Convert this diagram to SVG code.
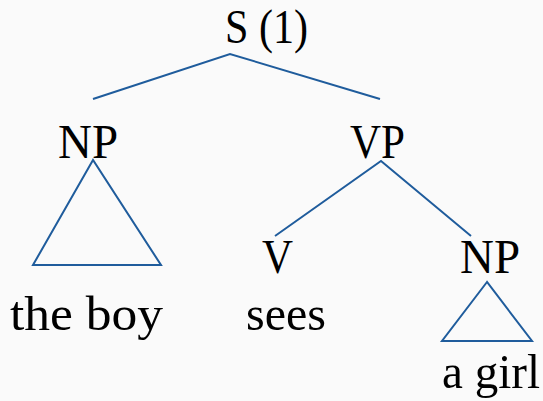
<svg xmlns="http://www.w3.org/2000/svg" width="543" height="401" viewBox="0 0 543 401">
<style>
.t{font-family:"Liberation Serif","Times New Roman",serif;font-size:49px;fill:#000}
.e{stroke:#1f5c9c;stroke-width:2;fill:none;stroke-linejoin:miter}
</style>
<rect width="543" height="401" fill="#fafafa"/>
<g id="connectors">
<polyline class="e" points="93,99 230,54 380,99"/>
<polyline class="e" points="275,236 381,161 471,236"/>
</g>
<g id="S"><text class="t" x="225" y="43" textLength="83" lengthAdjust="spacingAndGlyphs">S (1)</text></g>
<g id="NP1"><text class="t" x="58" y="158" textLength="60" lengthAdjust="spacingAndGlyphs">NP</text>
<polygon class="e" points="93,160 33,265 161,265"/></g>
<g id="VP"><text class="t" x="350" y="158" textLength="55" lengthAdjust="spacingAndGlyphs">VP</text></g>
<g id="V"><text class="t" x="262" y="273" textLength="31" lengthAdjust="spacingAndGlyphs">V</text></g>
<g id="NP2"><text class="t" x="460" y="273" textLength="60" lengthAdjust="spacingAndGlyphs">NP</text>
<polygon class="e" points="487,282 442,341 532,341"/></g>
<g id="theboy"><text class="t" x="10" y="330" textLength="153" lengthAdjust="spacingAndGlyphs">the boy</text></g>
<g id="sees"><text class="t" x="246" y="330" textLength="80" lengthAdjust="spacingAndGlyphs">sees</text></g>
<g id="agirl"><text class="t" x="442" y="388" textLength="98" lengthAdjust="spacingAndGlyphs">a girl</text></g>
</svg>
